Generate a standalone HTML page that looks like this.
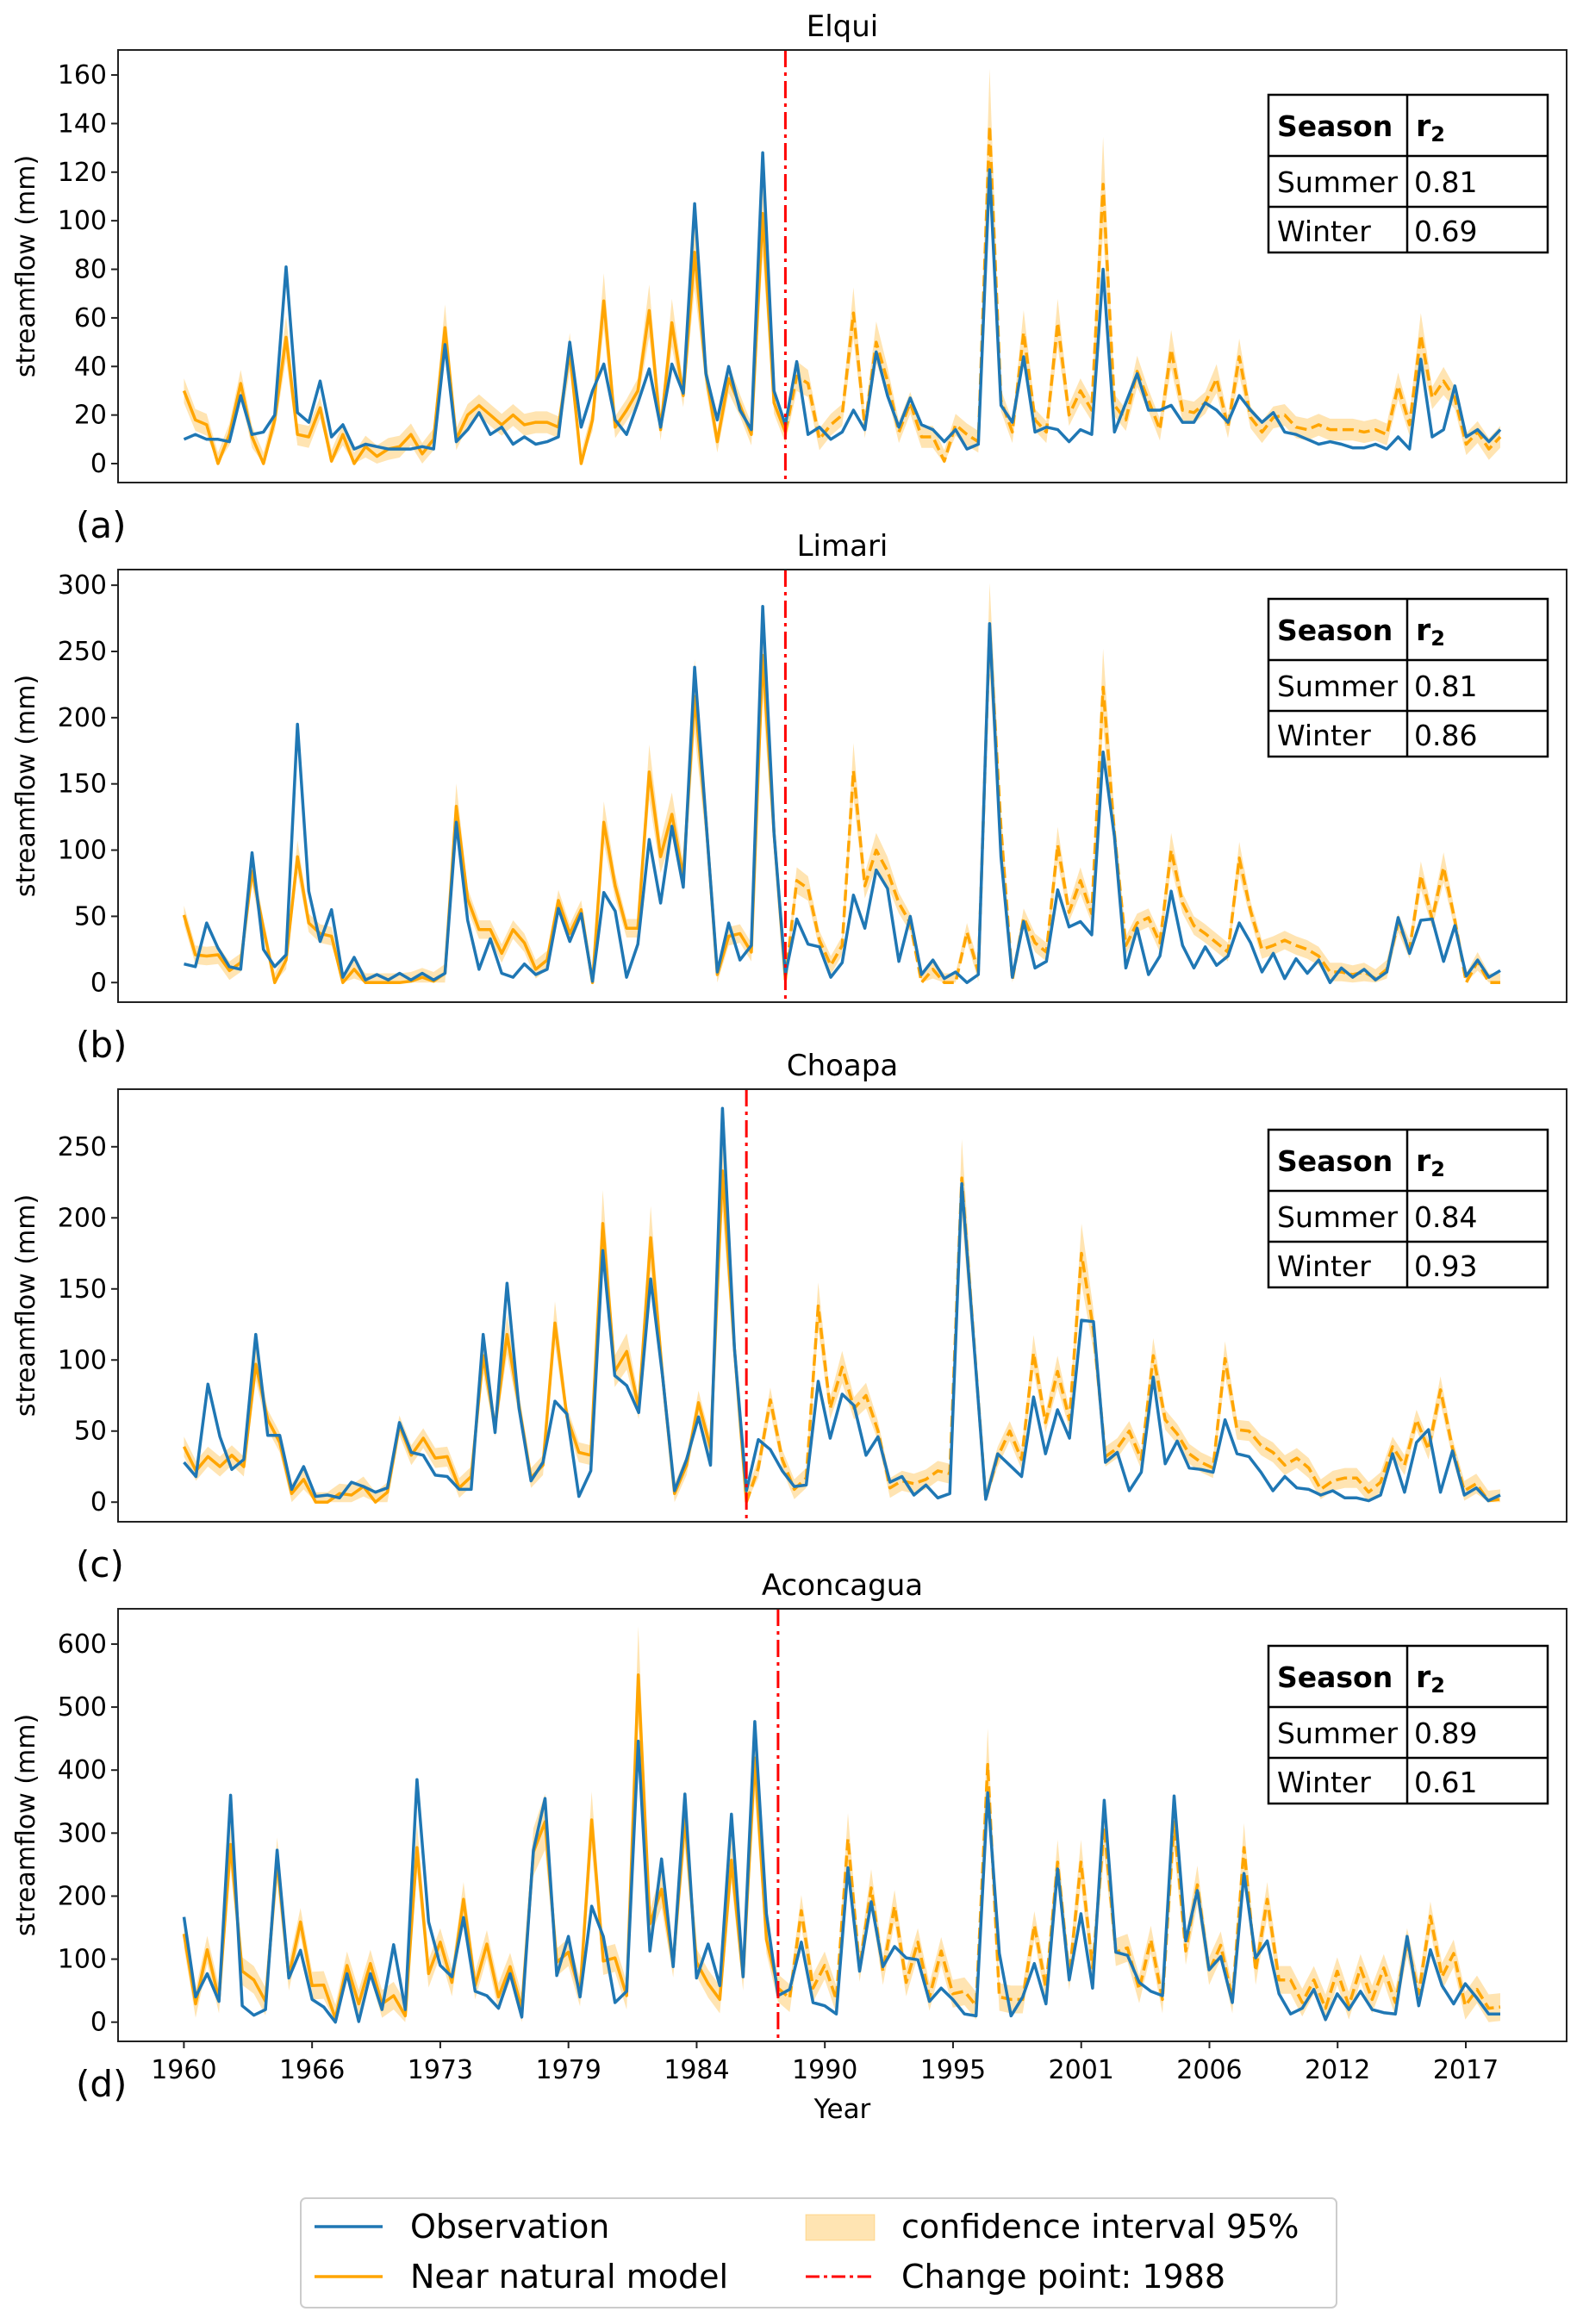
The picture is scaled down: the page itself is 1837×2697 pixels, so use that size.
<!DOCTYPE html>
<html>
<head>
<meta charset="utf-8">
<style>
html,body{margin:0;padding:0;background:#fff;}
svg{display:block;font-family:"DejaVu Sans","Liberation Sans",sans-serif;}
</style>
</head>
<body>
<svg id="chart" width="1837" height="2697" viewBox="0 0 1837 2697" xmlns="http://www.w3.org/2000/svg"></svg>
<script>
// ---------- data ----------
const xTickLabels = ["1960","1966","1973","1979","1984","1990","1995","2001","2006","2012","2017"];
const panelTitles = ["Elqui","Limari","Choapa","Aconcagua"];
const panelLetters = ["(a)","(b)","(c)","(d)"];
const summerR2 = ["0.81","0.81","0.84","0.89"];
const winterR2 = ["0.69","0.86","0.93","0.61"];
const changeIdx = [53, 53, 47, 51];

const elquiObs = [10,12,10,10,9,28,12,13,20,81, 21,17,34,11,16,6,8,7,6,6, 6,7,6,49,9,14,21,12,15,8, 11,8,9,11,50,15,30,41,18,12, 25,39,15,41,29,107,37,18,40,22, 14,128,30,16,42,12,15,10,13,
 22,14,46,28,15,27,16,14,9,14, 6,8,121,24,17,44,13,15,14,9, 14,12,80,13,25,37,22,22,24,17, 17,25,22,17,28,22,17,21,13,12, 10,8,9,8,6.5,6.5,8,6,11,6, 43,11,14,32,11,14,9,14];
const elquiModel = [30,18,16,0,12,33,11,0,18,52, 12,11,23,1,12,0,7,3,6,7, 12,4,10,56,10,20,24,20,16,20, 16,17,17,15,46,0,18,67,15,22, 30,63,14,58,28,87,37,9,35,24, 12,103,25,13,36,33,10,16,20,
 62,15,50,34,13,25,11,11,1,16, 12,9,139,26,13,54,18,13,58,20, 30,22,115,24,18,38,26,14,47,22, 21,25,35,15,44,19,13,19,20,15, 14,16,14,14,14,13,14,12,32,16, 53,27,34,27,8,13,6,11];

const limariObs = [14,12,45,26,12,10,98,25,12,21, 195,69,31,55,4,19,2,6,2,7, 2,7,2,7,121,47,10,33,7,4, 14,6,10,56,31,52,1,68,54,4, 29,108,60,118,72,238,123,8,45,17, 28,284,113,6,48,29,27,4,15,
 66,41,85,71,16,50,6,17,3,8, 0,6,271,95,4,46,11,16,70,42, 46,36,174,110,11,41,6,20,69,28, 11,27,13,20,45,30,8,22,3,18, 7,17,0,11,4,10,2,8,49,22, 47,48,16,43,5,17,4,9];
const limariModel = [51,21,20,21,9,15,84,41,0,17, 95,45,37,35,0,10,0,0,0,0, 1,4,1,7,133,63,40,40,22,40, 30,10,17,62,37,55,0,121,73,41, 41,159,95,127,80,216,123,6,35,37, 23,247,113,2,77,71,32,13,28,
 160,73,100,84,60,45,0,10,0,0, 38,8,267,117,2,49,30,23,104,53, 77,52,223,112,28,45,49,30,100,60, 43,37,30,23,94,54,25,28,32,28, 25,20,8,8,6,8,3,10,45,25, 81,48,87,47,0,16,0,0];

const choapaObs = [28,18,83,46,23,30,118,47,47,9, 25,4,5,3,14,11,7,10,56,35, 33,19,18,9,9,118,49,154,66,15, 28,71,62,4,22,177,89,82,63,157, 88,8,30,60,26,277,108,8,44,37, 22,11,12,85,45,76,
 68,33,46,14,18,5,12,3,6,224, 113,2,34,26,18,74,34,65,45,128, 127,28,35,8,21,88,27,43,24,23, 21,58,34,32,21,8,18,10,9,5, 8,3,3,1,5,34,7,42,51,7, 36,5,10,1,5];
const choapaModel = [39,22,32,25,33,25,97,58,42,6, 16,0,0,6,5,11,0,7,54,33, 45,31,32,10,18,103,53,118,68,17, 26,126,60,35,33,196,92,106,66,186, 88,6,26,70,38,233,108,0,24,72, 30,9,17,138,66,95,
 66,75,50,10,15,13,16,22,20,228, 115,2,32,50,30,105,56,92,58,175, 121,32,38,50,30,103,58,48,34,28, 24,101,51,50,40,35,26,31,24,9, 15,17,17,7,14,39,26,58,37,79, 38,8,13,1,2];

const aconcaguaObs = [167,40,77,33,360,26,11,20,273,70, 114,36,24,0,77,1,77,20,123,20, 385,159,90,72,166,49,42,22,77,8, 273,355,74,136,40,184,136,31,49,446, 113,259,88,362,70,124,58,330,72,477, 172,42,52,127,31,26,13,245,
 81,191,88,120,102,99,33,54,36,13, 10,364,109,10,40,93,29,243,67,172, 54,352,111,106,63,49,42,359,129,209, 83,104,31,236,102,129,45,13,22,52, 4,45,20,49,20,15,13,136,26,115, 58,29,61,38,13,13];
const aconcaguaModel = [140,29,115,36,282,81,67,33,257,72, 159,58,59,6,90,29,93,29,42,10, 277,77,127,63,195,58,124,40,88,22, 270,318,95,111,47,321,97,102,42,551, 156,211,93,323,95,61,36,257,72,419, 131,54,38,177,54,90,36,291,
 86,213,81,184,63,127,40,113,45,49, 26,409,40,36,36,154,54,254,72,254, 86,309,111,118,52,131,36,318,113,218, 81,122,36,277,81,195,67,67,31,67, 22,81,26,86,36,86,31,127,45,168, 72,109,26,52,22,24];

const ciRel = [0.17, 0.13, 0.12, 0.14];
const ciMin = [4.5, 7, 7, 22];
const yTicks1 = [0,20,40,60,80,100,120,140,160];
const yTicks2 = [0,50,100,150,200,250,300];
const yTicks3 = [0,50,100,150,200,250];
const yTicks4 = [0,100,200,300,400,500,600];

// ---------- layout ----------
const NS = "http://www.w3.org/2000/svg";
const svg = document.getElementById("chart");
const AX_L = 137, AX_R = 1818, DATA_X0 = 213.5, DATA_X1 = 1741;
const panels = [
 {top:58,   bottom:560,  ymin:-7.8,  ymax:170.3, obs:elquiObs,     model:elquiModel,     ticks:yTicks1, tableTop:110},
 {top:661,  bottom:1163, ymin:-14.8, ymax:311.8, obs:limariObs,    model:limariModel,    ticks:yTicks2, tableTop:695},
 {top:1264, bottom:1766, ymin:-13.8, ymax:290.5, obs:choapaObs,    model:choapaModel,    ticks:yTicks3, tableTop:1311},
 {top:1867, bottom:2369, ymin:-30.5, ymax:656,   obs:aconcaguaObs, model:aconcaguaModel, ticks:yTicks4, tableTop:1910}
];

function el(tag, attrs, parent, text){
  const e = document.createElementNS(NS, tag);
  for (const k in attrs) e.setAttribute(k, attrs[k]);
  if (text !== undefined) e.textContent = text;
  (parent || svg).appendChild(e);
  return e;
}

panels.forEach((p, pi) => {
  const g = el("g", {});
  
  
  const n = p.obs.length;
  const xOf = i => DATA_X0 + (DATA_X1 - DATA_X0) * i / (n - 1);
  const yOf = v => p.bottom - (v - p.ymin) / (p.ymax - p.ymin) * (p.bottom - p.top);

  const t = el("text", {x:(AX_L+AX_R)/2, y:p.top-16, "text-anchor":"middle", "font-size":"34", fill:"#000"}, g, panelTitles[pi]);
  
  

  let up = "", lo = "";
  for (let i = 0; i < n; i++) {
    const m = p.model[i];
    const h = Math.max(ciMin[pi], ciRel[pi] * m);
    up += (i ? "L" : "M") + xOf(i).toFixed(1) + "," + yOf(m + h).toFixed(1);
  }
  for (let i = n - 1; i >= 0; i--) {
    const m = p.model[i];
    const h = Math.max(ciMin[pi], ciRel[pi] * m);
    lo += "L" + xOf(i).toFixed(1) + "," + yOf(Math.max(0, m - h)).toFixed(1);
  }
  const band = el("path", {d: up + lo + "Z", fill:"#ffa500", "fill-opacity":"0.3", stroke:"none"}, g);
  
  

  const ci = changeIdx[pi];
  let dSolid = "", dDash = "";
  for (let i = 0; i <= ci; i++) dSolid += (i ? "L" : "M") + xOf(i).toFixed(1) + "," + yOf(p.model[i]).toFixed(1);
  for (let i = ci; i < n; i++) dDash += (i > ci ? "L" : "M") + xOf(i).toFixed(1) + "," + yOf(p.model[i]).toFixed(1);
  const ms = el("path", {d:dSolid, fill:"none", stroke:"#ffa500", "stroke-width":"3.5", "stroke-linejoin":"round"}, g);
  
  
  const md = el("path", {d:dDash, fill:"none", stroke:"#ffa500", "stroke-width":"3.5", "stroke-dasharray":"13,6", "stroke-linejoin":"round"}, g);
  
  

  let dObs = "";
  for (let i = 0; i < n; i++) dObs += (i ? "L" : "M") + xOf(i).toFixed(1) + "," + yOf(p.obs[i]).toFixed(1);
  const ob = el("path", {d:dObs, fill:"none", stroke:"#1f77b4", "stroke-width":"3.5", "stroke-linejoin":"round"}, g);
  
  

  const cx = xOf(ci);
  const cl = el("line", {x1:cx, x2:cx, y1:p.top, y2:p.bottom, stroke:"#ff0000", "stroke-width":"3", "stroke-dasharray":"20,6,4,6"}, g);
  
  

  const fr = el("rect", {x:AX_L, y:p.top, width:AX_R-AX_L, height:p.bottom-p.top, fill:"none", stroke:"#222", "stroke-width":"2"}, g);
  
  

  p.ticks.forEach(v => {
    const y = yOf(v);
    el("line", {x1:AX_L-8, x2:AX_L, y1:y, y2:y, stroke:"#222", "stroke-width":"2"}, g);
    const tl = el("text", {x:AX_L-13, y:y+10, "text-anchor":"end", "font-size":"30", fill:"#000"}, g, String(v));
    
    
  });

  const cy = (p.top + p.bottom) / 2;
  const yt = el("text", {x:0, y:0, transform:"translate(40," + cy + ") rotate(-90)", "text-anchor":"middle", "font-size":"30", fill:"#000"}, g, "streamflow (mm)");
  
  

  const pl = el("text", {x:88, y:p.bottom + 64, "font-size":"42", fill:"#000"}, g, panelLetters[pi]);
  
  

  const tx0 = 1472, tx1 = 1633, tx2 = 1796;
  const ty = [p.tableTop, p.tableTop + 71, p.tableTop + 130, p.tableTop + 183];
  const tb = el("g", {}, g);
  
  
  el("rect", {x:tx0, y:ty[0], width:tx2-tx0, height:ty[3]-ty[0], fill:"#fff", stroke:"#000", "stroke-width":"2.5"}, tb);
  el("line", {x1:tx1, x2:tx1, y1:ty[0], y2:ty[3], stroke:"#000", "stroke-width":"2.5"}, tb);
  el("line", {x1:tx0, x2:tx2, y1:ty[1], y2:ty[1], stroke:"#000", "stroke-width":"2.5"}, tb);
  el("line", {x1:tx0, x2:tx2, y1:ty[2], y2:ty[2], stroke:"#000", "stroke-width":"2.5"}, tb);
  el("text", {x:tx0+10, y:ty[0]+48, "font-size":"33", "font-weight":"bold", fill:"#000"}, tb, "Season");
  const rh = el("text", {x:tx1+10, y:ty[0]+48, "font-size":"35", "font-weight":"bold", fill:"#000"}, tb, "r");
  el("tspan", {"font-size":"24", dy:"6"}, rh, "2");
  el("text", {x:tx0+10, y:ty[1]+42, "font-size":"33", fill:"#000"}, tb, "Summer");
  el("text", {x:tx1+8, y:ty[1]+42, "font-size":"33", fill:"#000"}, tb, summerR2[pi]);
  el("text", {x:tx0+10, y:ty[2]+40, "font-size":"33", fill:"#000"}, tb, "Winter");
  el("text", {x:tx1+8, y:ty[2]+40, "font-size":"33", fill:"#000"}, tb, winterR2[pi]);

  if (pi === 3) {
    const step = (1701 - 213.4) / (xTickLabels.length - 1);
    xTickLabels.forEach((lab, k) => {
      const x = 213.4 + step * k;
      el("line", {x1:x, x2:x, y1:p.bottom, y2:p.bottom+8, stroke:"#222", "stroke-width":"2"}, g);
      const xl = el("text", {x:x, y:p.bottom+43, "text-anchor":"middle", "font-size":"30", fill:"#000"}, g, lab);
      
      
    });
    const xt = el("text", {x:(AX_L+AX_R)/2, y:p.bottom+89, "text-anchor":"middle", "font-size":"31", fill:"#000"}, g, "Year");
    
    
  }
});

// ---------- legend ----------
const lg = el("g", {});


el("rect", {x:349, y:2551, width:1202, height:127, rx:6, fill:"#fff", stroke:"#cccccc", "stroke-width":"2"}, lg);
const e1 = el("line", {x1:365, x2:444, y1:2584, y2:2584, stroke:"#1f77b4", "stroke-width":"3.5"}, lg);


el("text", {x:476, y:2597, "font-size":"38", fill:"#000"}, lg, "Observation");
const e2 = el("line", {x1:365, x2:444, y1:2642, y2:2642, stroke:"#ffa500", "stroke-width":"3.5"}, lg);


el("text", {x:476, y:2655, "font-size":"38", fill:"#000"}, lg, "Near natural model");
const e3 = el("rect", {x:935, y:2570, width:80, height:30, fill:"#ffa500", "fill-opacity":"0.3", stroke:"#ffa500", "stroke-opacity":"0.3"}, lg);


el("text", {x:1046, y:2597, "font-size":"38", fill:"#000"}, lg, "confidence interval 95%");
const e4 = el("line", {x1:935, x2:1015, y1:2642, y2:2642, stroke:"#ff0000", "stroke-width":"3", "stroke-dasharray":"16,5,4,5"}, lg);


el("text", {x:1046, y:2655, "font-size":"38", fill:"#000"}, lg, "Change point: 1988");
</script>
</body>
</html>
